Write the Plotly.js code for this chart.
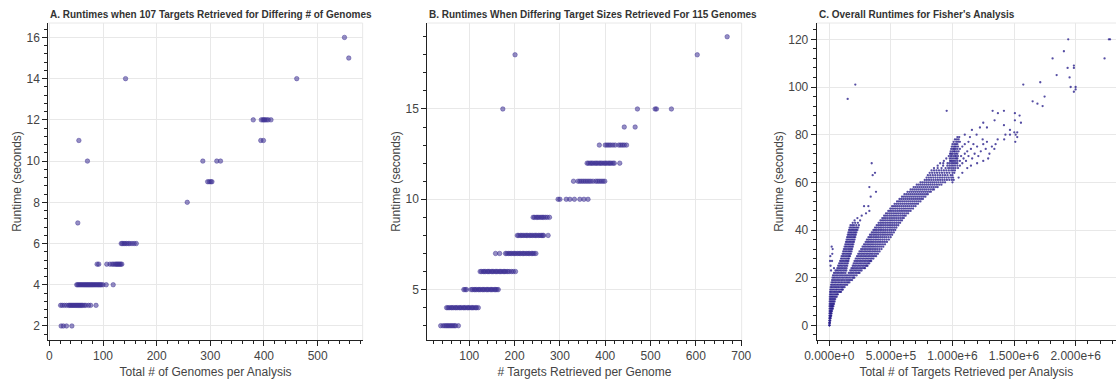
<!DOCTYPE html>
<html>
<head>
<meta charset="utf-8">
<script src="https://cdn.plot.ly/plotly-3.0.1.min.js"></script>
<style>
html,body{margin:0;padding:0;background:#fff;}
#chart{width:1116px;height:384px;}
</style>
</head>
<body>
<div id="chart"></div>
<script>
// ---------- Panel A: runtimes vs total # genomes (107 targets) ----------
const genomeRuntimeLevels = [2, 3, 4, 5, 6, 7, 8, 9, 10, 11, 12, 14, 15, 16];
const genomeCounts = [
  [22, 26, 32, 42],
  [21, 24, 28, 32, 36, 38, 40, 42, 44, 46, 48, 50, 52, 54, 56, 58, 60, 62, 65, 68, 73, 77, 87],
  [51, 53, 55, 57, 59, 61, 63, 65, 67, 69, 71, 73, 75, 77, 79, 81, 83, 85, 87, 89, 91, 93, 95, 97, 100, 106, 119],
  [89, 92, 107, 113, 117, 120, 123, 125, 127, 129, 131, 133, 135],
  [134, 136, 139, 141, 144, 147, 150, 154, 158, 162],
  [53],
  [257],
  [295, 298, 301, 303],
  [71, 286, 312, 319],
  [55, 394, 399],
  [380, 395, 398, 400, 402, 405, 408, 413],
  [142, 461],
  [558],
  [550]
];

// ---------- Panel B: runtimes vs targets per genome (115 genomes) ----------
const targetRuntimeLevels = [3, 4, 5, 6, 7, 8, 9, 10, 11, 12, 13, 14, 15, 18, 19];
const targetsPerGenome = [
  [37, 42, 46, 49, 52, 55, 58, 61, 64, 67, 70, 76],
  [50, 53, 56, 60, 62, 65, 69, 71, 74, 78, 80, 83, 87, 89, 92, 96, 98, 101, 105, 107, 110, 114, 116, 120],
  [88, 91, 94, 104, 107, 111, 113, 116, 120, 122, 125, 129, 131, 134, 138, 140, 143, 147, 149, 152, 156, 158, 161, 164],
  [124, 127, 131, 133, 136, 140, 142, 145, 149, 151, 154, 158, 160, 163, 167, 169, 172, 176, 178, 181, 185, 188, 193, 197, 202],
  [158, 167, 180, 183, 187, 190, 193, 197, 200, 203, 207, 210, 213, 217, 220, 223, 227, 230, 233, 237, 240, 243, 247],
  [206, 209, 213, 216, 219, 223, 226, 229, 233, 236, 239, 243, 246, 249, 253, 256, 259, 262, 264, 274],
  [241, 244, 248, 251, 254, 258, 261, 264, 268, 272, 277],
  [296, 300, 314, 322, 332, 344, 353, 362],
  [330, 340, 344, 348, 352, 356, 360, 364, 368, 373, 379, 383, 387, 391, 395, 399],
  [360, 363, 367, 370, 373, 377, 380, 383, 387, 390, 393, 397, 400, 403, 407, 410, 413, 417, 420, 432],
  [387, 400, 404, 408, 412, 417, 422, 430, 434, 438, 442, 447],
  [442, 466],
  [174, 471, 510, 513, 546],
  [201, 603],
  [669]
];

// ---------- Panel C: overall runtimes vs total targets (thousands) ----------
const fisherRuntimeLevels = [
  0,1,2,3,4,5,6,7,8,9,10,11,12,13,14,15,16,17,18,19,20,21,22,23,24,25,26,27,28,29,30,
  31,32,33,34,35,36,37,38,39,40,41,42,43,44,45,46,47,48,49,50,51,52,53,54,55,56,57,58,59,60,
  61,62,63,64,65,66,67,68,69,70,71,72,73,74,75,76,77,78,79,80,
  81,82,83,84,85,86,88,89,90,92,93,94,95,96,98,99,100,101,102,104,105,108,109,112,115,120
];
const fisherTargetsK = [
  [0, 1, 2],
  [0, 2, 4],
  [0, 3, 5, 8],
  [1, 4, 7, 11],
  [1, 5, 9, 12, 15],
  [1, 6, 11, 14, 18],
  [2, 7, 12, 17, 22],
  [2, 8, 14, 19, 24, 28],
  [2, 9, 16, 22, 27, 33],
  [3, 10, 17, 24, 31, 38],
  [3, 11, 19, 27, 35, 43],
  [4, 12, 21, 30, 39, 48],
  [4, 13, 22, 31, 41, 50, 60],
  [5, 14, 24, 34, 44, 54, 63, 70],
  [6, 15, 26, 37, 47, 58, 68, 79, 88, 95],
  [8, 18, 29, 40, 52, 61, 73, 84, 96, 104, 110],
  [11, 21, 33, 44, 55, 67, 78, 91, 102, 113, 124],
  [14, 25, 37, 48, 61, 72, 85, 96, 109, 121, 133, 145],
  [18, 29, 42, 53, 66, 78, 91, 103, 117, 129, 142, 153, 163],
  [22, 34, 46, 59, 71, 84, 97, 110, 123, 137, 150, 162, 174, 185],
  [26, 38, 51, 64, 77, 90, 104, 117, 131, 144, 158, 171, 186, 196, 203],
  [30, 43, 56, 69, 83, 96, 110, 124, 137, 151, 165, 178, 193, 207, 222],
  [38, 51, 64, 77, 90, 103, 117, 131, 158, 171, 184, 197, 211, 224, 237, 245],
  [14, 50, 62, 74, 87, 100, 113, 126, 138, 170, 183, 196, 209, 222, 235, 249, 262],
  [38, 65, 77, 89, 102, 114, 127, 140, 180, 192, 205, 218, 231, 244, 257, 270, 282, 290],
  [10, 72, 84, 96, 108, 121, 133, 145, 190, 202, 215, 228, 241, 254, 267, 280, 293, 303, 310],
  [80, 91, 103, 115, 127, 139, 150, 198, 211, 224, 237, 250, 263, 276, 289, 302, 315, 325],
  [6, 22, 88, 99, 111, 123, 135, 146, 155, 205, 218, 231, 244, 257, 270, 283, 296, 309, 322, 333, 340],
  [95, 106, 118, 130, 141, 152, 160, 215, 228, 241, 254, 267, 280, 293, 306, 319, 332, 345, 358],
  [8, 100, 112, 124, 136, 148, 159, 168, 225, 238, 251, 264, 277, 290, 303, 316, 329, 342, 355, 368, 380],
  [24, 108, 119, 131, 143, 154, 165, 175, 235, 248, 261, 274, 287, 300, 313, 326, 339, 352, 366, 380, 395],
  [113, 124, 136, 148, 159, 170, 180, 245, 258, 271, 284, 297, 310, 323, 336, 350, 364, 378, 393, 408],
  [27, 118, 129, 141, 153, 164, 175, 185, 258, 271, 284, 297, 310, 323, 336, 349, 363, 377, 391, 407, 424],
  [19, 124, 135, 147, 158, 169, 180, 190, 270, 283, 296, 309, 322, 335, 348, 362, 376, 390, 405, 421, 438],
  [130, 141, 152, 163, 174, 185, 195, 282, 295, 308, 321, 334, 347, 361, 375, 389, 404, 419, 435, 452],
  [135, 146, 157, 168, 179, 190, 200, 295, 308, 321, 334, 347, 361, 375, 389, 404, 419, 435, 451, 468],
  [140, 151, 162, 173, 184, 195, 205, 305, 318, 331, 345, 359, 373, 387, 402, 417, 433, 449, 466, 484],
  [145, 156, 167, 178, 189, 200, 210, 318, 331, 344, 358, 372, 386, 400, 415, 430, 446, 462, 480, 498],
  [150, 161, 172, 183, 194, 205, 215, 330, 343, 357, 371, 385, 399, 414, 429, 444, 460, 476, 493, 510],
  [155, 166, 177, 188, 199, 210, 220, 345, 358, 372, 386, 400, 414, 429, 444, 459, 475, 491, 507, 524],
  [160, 171, 183, 194, 205, 217, 228, 358, 371, 385, 399, 413, 427, 442, 457, 472, 488, 503, 519, 535],
  [165, 177, 189, 200, 212, 224, 235, 371, 384, 398, 412, 426, 440, 455, 470, 485, 500, 515, 530, 545],
  [172, 186, 200, 219, 240, 385, 399, 413, 427, 441, 455, 470, 485, 500, 515, 530, 545, 560],
  [190, 210, 232, 400, 414, 428, 442, 456, 470, 485, 500, 515, 530, 545, 560, 575],
  [205, 250, 415, 429, 443, 457, 471, 486, 501, 516, 531, 546, 561, 576, 590],
  [228, 430, 444, 458, 472, 487, 502, 517, 532, 547, 562, 577, 592, 605],
  [263, 445, 459, 473, 488, 503, 518, 533, 548, 563, 578, 593, 607, 620],
  [298, 460, 474, 489, 504, 519, 534, 549, 564, 579, 594, 609, 625, 640],
  [325, 479, 493, 508, 523, 538, 553, 568, 583, 598, 614, 630, 645, 660],
  [495, 510, 525, 540, 555, 570, 585, 600, 615, 631, 647, 663, 680],
  [282, 317, 510, 525, 540, 555, 570, 586, 602, 618, 634, 650, 667, 684, 700],
  [530, 545, 560, 576, 592, 608, 624, 640, 656, 672, 688, 704, 720],
  [550, 565, 580, 596, 612, 628, 644, 660, 676, 692, 708, 724, 740],
  [570, 585, 601, 617, 633, 649, 665, 681, 697, 713, 729, 745, 760],
  [336, 590, 605, 621, 637, 653, 669, 685, 701, 717, 733, 749, 765, 780],
  [610, 626, 642, 658, 674, 690, 706, 722, 738, 754, 770, 786, 800],
  [379, 635, 651, 667, 683, 699, 715, 731, 747, 763, 779, 795, 811, 825],
  [660, 676, 692, 708, 724, 740, 756, 772, 788, 805, 822, 838, 850],
  [325, 685, 701, 717, 733, 749, 765, 781, 797, 814, 831, 848, 865, 880],
  [710, 726, 742, 758, 774, 790, 806, 822, 839, 856, 874, 892, 910],
  [740, 756, 772, 788, 804, 820, 836, 852, 869, 886, 904, 922, 940, 1000],
  [775, 792, 810, 828, 846, 864, 882, 900, 918, 936, 955, 975, 995, 1010],
  [790, 808, 826, 844, 862, 880, 898, 916, 934, 952, 970, 990, 1005, 1050],
  [352, 800, 820, 840, 860, 880, 900, 920, 940, 960, 985, 1000],
  [371, 815, 835, 855, 875, 895, 915, 935, 955, 975, 1000, 1015, 1080],
  [830, 850, 870, 890, 910, 930, 950, 970, 990, 1005, 1020],
  [850, 880, 911, 944, 965, 979, 995, 1010, 1025, 1045, 1120],
  [880, 924, 958, 975, 990, 1005, 1021, 1040, 1060, 1150],
  [344, 900, 925, 960, 975, 990, 1003, 1015, 1028, 1040, 1080, 1200],
  [930, 980, 990, 1000, 1012, 1025, 1040, 1060, 1110, 1250],
  [950, 978, 990, 1005, 1020, 1032, 1040, 1090, 1160, 1290],
  [970, 985, 995, 1010, 1022, 1030, 1045, 1070, 1130, 1210],
  [980, 990, 1000, 1015, 1028, 1040, 1100, 1180, 1300],
  [985, 1000, 1012, 1020, 1035, 1050, 1120, 1230],
  [990, 1005, 1015, 1025, 1040, 1060, 1150, 1270, 1340],
  [995, 1010, 1020, 1030, 1045, 1080, 1200, 1320],
  [1000, 1015, 1028, 1040, 1100, 1170, 1250, 1350],
  [1010, 1030, 1045, 1060, 1130, 1280, 1510],
  [1020, 1035, 1050, 1245, 1367, 1420],
  [1040, 1055, 1142, 1526],
  [1100, 1196, 1430, 1467, 1513],
  [1502, 1526],
  [1158, 1467],
  [1223, 1280],
  [1418],
  [1250, 1556],
  [1342, 1507],
  [1545],
  [1369, 1507],
  [953, 1326, 1418],
  [1732],
  [1690],
  [1651],
  [149],
  [1748],
  [1986],
  [2000],
  [1960, 2000],
  [211, 1575],
  [1713],
  [1951],
  [1846],
  [1935, 1986],
  [1986],
  [1813, 2235],
  [1905],
  [1940, 2270, 2280]
];

const cTickVals = [0, 500000, 1000000, 1500000, 2000000];
const cTickText = ['0.000e+0', '5.000e+5', '1.000e+6', '1.500e+6', '2.000e+6'];

const titles = [
  "A. Runtimes when 107 Targets Retrieved for Differing # of Genomes",
  "B. Runtimes When Differing Target Sizes Retrieved For 115 Genomes",
  "C. Overall Runtimes for Fisher's Analysis"
];
const xTitles = ["Total # of Genomes per Analysis", "# Targets Retrieved per Genome", "Total # of Targets Retrieved per Analysis"];
const yTitle = "Runtime (seconds)";

function flatten(levels, rows, scale) {
  const xs = [], ys = [];
  levels.forEach((lv, i) => rows[i].forEach(v => { xs.push(v * scale); ys.push(lv); }));
  return {xs, ys};
}
const A = flatten(genomeRuntimeLevels, genomeCounts, 1);
const B = flatten(targetRuntimeLevels, targetsPerGenome, 1);
const C = flatten(fisherRuntimeLevels, fisherTargetsK, 1000);

const ptColor = 'rgba(62,50,148,0.55)';
const ptLine = 'rgba(62,50,148,0.75)';

const traces = [
  {x: A.xs, y: A.ys, xaxis: 'x', yaxis: 'y', type: 'scatter', mode: 'markers',
   marker: {size: 4.5, color: ptColor, line: {width: 0.6, color: ptLine}}, hoverinfo: 'skip'},
  {x: B.xs, y: B.ys, xaxis: 'x2', yaxis: 'y2', type: 'scatter', mode: 'markers',
   marker: {size: 4.5, color: ptColor, line: {width: 0.6, color: ptLine}}, hoverinfo: 'skip'},
  {x: C.xs, y: C.ys, xaxis: 'x3', yaxis: 'y3', type: 'scatter', mode: 'markers',
   marker: {size: 2.3, color: 'rgba(42,32,140,0.8)', line: {width: 0}}, hoverinfo: 'skip'}
];

const FONT = 'Liberation Sans, Arial, Helvetica, sans-serif';
const W = 1116, H = 384;
const yDom = [1 - 340 / H, 1 - 23 / H];

function xAx(dom, range, dtick, minorDtick, title, anchor, extra) {
  return Object.assign({
    domain: dom, range: range, anchor: anchor, dtick: dtick, tick0: 0,
    showline: true, linecolor: '#222', linewidth: 1, mirror: false,
    ticks: 'outside', ticklen: 5, tickwidth: 1, tickcolor: '#222',
    showgrid: true, gridcolor: '#e8e8e8', gridwidth: 1, zeroline: false,
    minor: {dtick: minorDtick, ticks: 'outside', ticklen: 3, tickwidth: 1, tickcolor: '#222', showgrid: false},
    tickfont: {family: FONT, size: 12, color: '#444'},
    title: {text: title, font: {family: FONT, size: 12, color: '#444'}, standoff: 5},
    automargin: false, fixedrange: true
  }, extra || {});
}
function yAx(range, dtick, minorDtick, anchor) {
  return {
    domain: yDom, range: range, anchor: anchor, dtick: dtick, tick0: 0,
    showline: true, linecolor: '#222', linewidth: 1,
    ticks: 'outside', ticklen: 5, tickwidth: 1, tickcolor: '#222',
    showgrid: true, gridcolor: '#e8e8e8', gridwidth: 1, zeroline: false,
    minor: {dtick: minorDtick, ticks: 'outside', ticklen: 3, tickwidth: 1, tickcolor: '#222', showgrid: false},
    tickfont: {family: FONT, size: 12, color: '#444'},
    title: {text: yTitle, font: {family: FONT, size: 12, color: '#444'}, standoff: 2},
    automargin: false, fixedrange: true
  };
}

const domA = [48.33 / W, 362.67 / W];
const domB = [427.33 / W, 741.67 / W];
const domC = [816.67 / W, 1];

const layout = {
  width: W, height: H,
  margin: {l: 0, r: 0, t: 0, b: 0},
  paper_bgcolor: '#fff', plot_bgcolor: '#fff',
  showlegend: false,
  font: {family: FONT},
  xaxis: xAx(domA, [-1.9, 583.9], 100, 20, xTitles[0], 'y'),
  yaxis: yAx([1.32, 16.7], 2, 0.4, 'x'),
  xaxis2: xAx(domB, [7.5, 701], 100, 20, xTitles[1], 'y2'),
  yaxis2: yAx([2.21, 19.76], 5, 1, 'x2'),
  xaxis3: xAx(domC, [-102800, 2328000], null, 100000, xTitles[2], 'y3',
              {tickmode: 'array', tickvals: cTickVals, ticktext: cTickText}),
  yaxis3: yAx([-6.15, 126.85], 20, 4, 'x3'),
  annotations: [
    {text: '<b>' + titles[0] + '</b>', x: domA[0], y: 1 - 14 / H},
    {text: '<b>' + titles[1] + '</b>', x: domB[0], y: 1 - 14 / H},
    {text: '<b>' + titles[2] + '</b>', x: domC[0], y: 1 - 14 / H}
  ].map(a => Object.assign(a, {xref: 'paper', yref: 'paper', xanchor: 'left', yanchor: 'middle',
    showarrow: false, font: {family: FONT, size: 10, color: '#333'}})),
  shapes: [
    {type: 'line', xref: 'x domain', yref: 'y domain', x0: 0, x1: 1, y0: 1, y1: 1},
    {type: 'line', xref: 'x domain', yref: 'y domain', x0: 1, x1: 1, y0: 0, y1: 1},
    {type: 'line', xref: 'x2 domain', yref: 'y2 domain', x0: 0, x1: 1, y0: 1, y1: 1},
    {type: 'line', xref: 'x2 domain', yref: 'y2 domain', x0: 1, x1: 1, y0: 0, y1: 1},
    {type: 'line', xref: 'x3 domain', yref: 'y3 domain', x0: 0, x1: 1, y0: 1, y1: 1}
  ].map(s => Object.assign(s, {layer: 'below', line: {color: '#e8e8e8', width: 1}}))
};
delete layout.xaxis3.dtick;

Plotly.newPlot('chart', traces, layout, {staticPlot: true, displayModeBar: false});
</script>
</body>
</html>
